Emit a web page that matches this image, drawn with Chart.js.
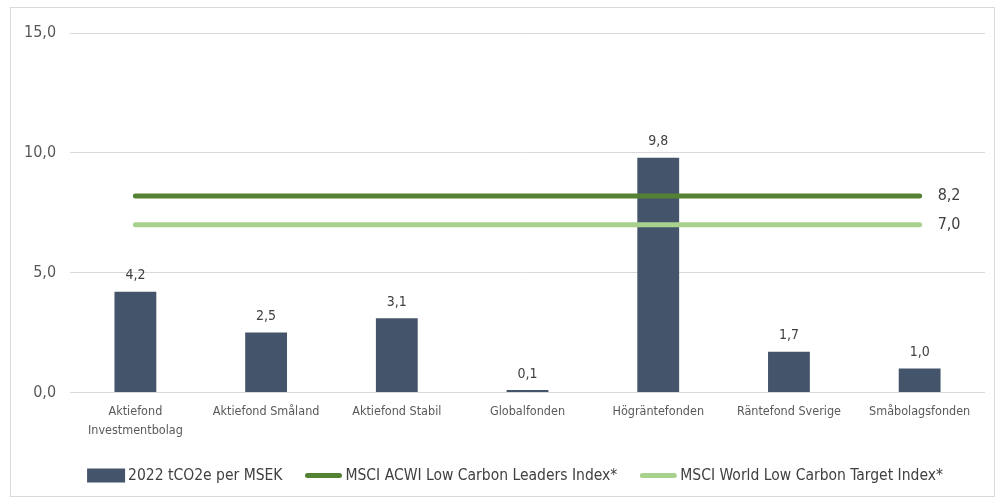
<!DOCTYPE html>
<html>
<head>
<meta charset="utf-8">
<script src="https://cdn.jsdelivr.net/npm/chart.js@4/dist/chart.umd.min.js"></script>
<style>
  html, body { margin: 0; padding: 0; background: #fff; }
  #wrap { width: 1003px; height: 502px; position: relative; }
</style>
</head>
<body>
<div id="wrap"><canvas id="chart"></canvas></div>
<script>
// data
const categories = [['Aktiefond', 'Investmentbolag'], 'Aktiefond Småland', 'Aktiefond Stabil', 'Globalfonden', 'Högräntefonden', 'Räntefond Sverige', 'Småbolagsfonden'];
const emissions = [4.2, 2.5, 3.1, 0.1, 9.8, 1.7, 1.0];
const acwiLeaders = [8.2, 8.2, 8.2, 8.2, 8.2, 8.2, 8.2];
const worldTarget = [7.0, 7.0, 7.0, 7.0, 7.0, 7.0, 7.0];
const seriesNames = ['2022 tCO2e per MSEK', 'MSCI ACWI Low Carbon Leaders Index*', 'MSCI World Low Carbon Target Index*'];
const yTicks = [0, 5, 10, 15];

const FONT = '"Liberation Sans Narrow", "DejaVu Sans Condensed", sans-serif';
const fmt = v => v.toFixed(1).replace('.', ',');

// etiquetas de valores, leyenda propia y marco
const labelsPlugin = {
  id: 'valueLabels',
  afterDatasetsDraw(chart) {
    const ctx = chart.ctx;
    ctx.save();
    ctx.fillStyle = '#404040';
    ctx.font = '14px ' + FONT;
    // barras
    const barMeta = chart.getDatasetMeta(0);
    ctx.textAlign = 'center';
    ctx.textBaseline = 'bottom';
    barMeta.data.forEach((bar, i) => {
      ctx.fillText(fmt(emissions[i]), bar.x, bar.y - 9);
    });
    // lineas: valor al final
    ctx.textAlign = 'left';
    ctx.textBaseline = 'middle';
    ctx.font = '16px ' + FONT;
    [1, 2].forEach(di => {
      const meta = chart.getDatasetMeta(di);
      const last = meta.data[meta.data.length - 1];
      const v = chart.data.datasets[di].data[meta.data.length - 1];
      ctx.fillText(fmt(v), last.x + 18, last.y);
    });
    ctx.restore();
  },
  afterDraw(chart) {
    const ctx = chart.ctx;
    ctx.save();
    // leyenda
    const y = chart.chartArea.bottom + 83;
    const sw = 38, gapText = 3, gapItem = 22;
    ctx.font = '15.5px ' + FONT;
    const items = chart.data.datasets.map(ds => ({ ds, w: sw + gapText + ctx.measureText(ds.label).width }));
    const total = items.reduce((s, it) => s + it.w, 0) + gapItem * (items.length - 1);
    let x = 515 - total / 2;
    ctx.textAlign = 'left';
    ctx.textBaseline = 'middle';
    items.forEach(it => {
      const ds = it.ds;
      if (ds.type === 'line') {
        ctx.strokeStyle = ds.borderColor;
        ctx.lineWidth = 5;
        ctx.lineCap = 'round';
        ctx.beginPath();
        ctx.moveTo(x + 3, y);
        ctx.lineTo(x + sw - 3, y);
        ctx.stroke();
      } else {
        ctx.fillStyle = ds.backgroundColor;
        ctx.fillRect(x, y - 7, sw, 14);
      }
      ctx.fillStyle = '#404040';
      ctx.fillText(ds.label, x + sw + gapText, y);
      x += it.w + gapItem;
    });
    // marco
    ctx.strokeStyle = '#d9d9d9';
    ctx.lineWidth = 1;
    ctx.strokeRect(10.5, 7.5, 984, 489);
    ctx.restore();
  }
};

const chart = new Chart(document.getElementById('chart'), {
  type: 'bar',
  data: {
    labels: categories,
    datasets: [
      { type: 'bar', label: seriesNames[0], data: emissions, backgroundColor: '#44546A', barPercentage: 0.64, categoryPercentage: 0.5, order: 2 },
      { type: 'line', label: seriesNames[1], data: acwiLeaders, borderColor: '#548235', backgroundColor: '#548235', borderWidth: 5, pointRadius: 0, borderCapStyle: 'round', order: 1 },
      { type: 'line', label: seriesNames[2], data: worldTarget, borderColor: '#A9D18E', backgroundColor: '#A9D18E', borderWidth: 5, pointRadius: 0, borderCapStyle: 'round', order: 1 }
    ]
  },
  options: {
    responsive: true,
    maintainAspectRatio: false,
    animation: false,
    layout: { padding: { top: 33, right: 18, left: 10, bottom: 60 } },
    plugins: {
      tooltip: { enabled: false },
      legend: { display: false }
    },
    scales: {
      x: {
        grid: { display: false },
        border: { display: false },
        ticks: { color: '#595959', font: { family: FONT, size: 12.5, lineHeight: 1.5 }, maxRotation: 0, autoSkip: false, padding: 2 }
      },
      y: {
        min: 0,
        max: 15,
        afterBuildTicks(axis) { axis.ticks = yTicks.map(v => ({ value: v })); },
        grid: { color: '#d9d9d9', drawTicks: false },
        border: { display: false },
        ticks: { color: '#595959', font: { family: FONT, size: 16 }, padding: 14, callback: v => fmt(v) }
      }
    }
  },
  plugins: [labelsPlugin]
});
</script>
</body>
</html>
